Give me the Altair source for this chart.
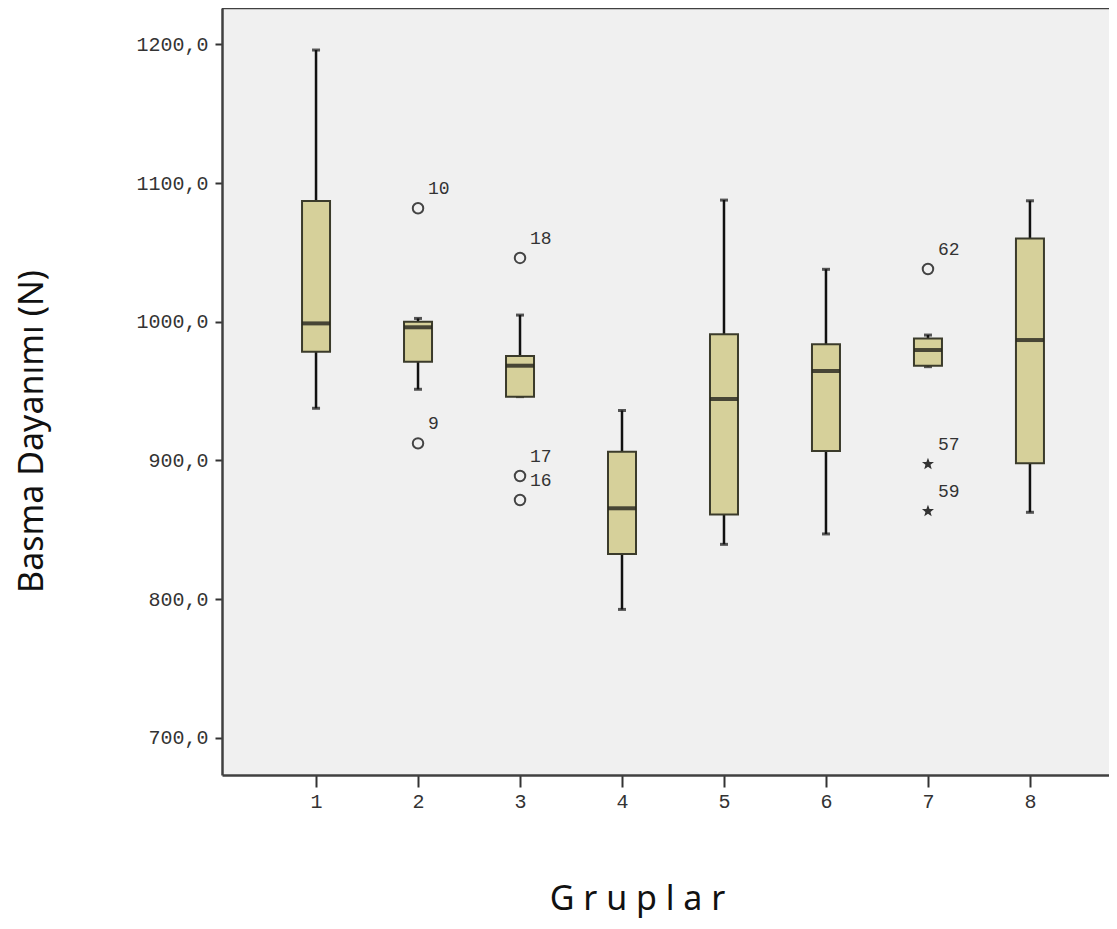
import math
import altair as alt
import pandas as pd

# ---- data ----
groups = [1, 2, 3, 4, 5, 6, 7, 8]
whisker_low = [937.6, 951.3, 946.0, 792.6, 839.5, 847.0, 967.6, 862.6]
q1 = [978.4, 971.2, 946.0, 832.5, 861.0, 906.8, 968.3, 897.9]
median = [998.8, 996.0, 968.3, 865.5, 944.3, 964.5, 979.6, 986.8]
q3 = [1087.0, 1000.0, 975.3, 906.3, 991.0, 983.7, 988.0, 1060.0]
whisker_high = [1195.9, 1002.4, 1004.8, 936.0, 1087.7, 1037.8, 990.4, 1087.2]

out_group = [2, 2, 3, 3, 3, 7, 7, 7]
out_value = [1081.8, 912.3, 1046.0, 888.8, 871.5, 1038.0, 897.4, 863.5]
out_label = ["10", "9", "18", "17", "16", "62", "57", "59"]
out_kind = ["circle", "circle", "circle", "circle", "circle", "circle", "star", "star"]

y_ticks = [700, 800, 900, 1000, 1100, 1200]

box = pd.DataFrame({"g": groups, "lo": whisker_low, "q1": q1, "med": median,
                    "q3": q3, "hi": whisker_high})
out = pd.DataFrame({"g": out_group, "v": out_value, "lab": out_label, "kind": out_kind})

# five-pointed star symbol path (unit square)
pts = []
for k in range(10):
    ang = math.radians(-90 + 36 * k)
    r = 1.0 if k % 2 == 0 else 0.42
    pts.append(f"{r * math.cos(ang):.3f},{r * math.sin(ang):.3f}")
STAR = "M" + " L".join(pts) + " Z"

W, H = 887, 767
xscale = alt.Scale(domain=[0.078, 8.775], nice=False, zero=False, padding=0)
yscale = alt.Scale(domain=[673.2, 1226.2], nice=False, zero=False, padding=0)

xaxis = alt.Axis(values=groups, format="d", title="G r u p l a r", grid=False,
                 labelFont="Liberation Mono", labelFontSize=20, labelColor="#333333",
                 labelPadding=4, tickSize=12, tickWidth=2, tickColor="#333333",
                 domainColor="#404040", domainWidth=2.5,
                 titleFont="Noto Sans", titleFontSize=34, titleFontWeight="normal",
                 titleColor="#111111", titleX=415, titleY=124, titleBaseline="middle",
                 titleAlign="center")
yaxis = alt.Axis(values=y_ticks, grid=False, title="Basma Dayanımı (N)",
                 labelExpr="replace(format(datum.value, '.1f'), '.', ',')",
                 labelFont="Liberation Mono", labelFontSize=20, labelColor="#333333",
                 labelPadding=7, tickSize=7, tickWidth=2, tickColor="#333333",
                 domainColor="#404040", domainWidth=2.5,
                 titleFont="Noto Sans", titleFontSize=34, titleFontWeight="normal",
                 titleColor="#111111", titleAngle=-90, titleX=-190, titleY=423,
                 titleBaseline="middle", titleAlign="center")

X = alt.X("g:Q", scale=xscale, axis=xaxis)

base = alt.Chart(box)

whisk = base.mark_rule(color="#111111", strokeWidth=2.5).encode(
    x=X, y=alt.Y("lo:Q", scale=yscale, axis=yaxis), y2="hi:Q")

cap_lo = base.mark_tick(orient="horizontal", size=8, thickness=3, color="#111111").encode(
    x=X, y=alt.Y("lo:Q", scale=yscale, axis=yaxis))
cap_hi = base.mark_tick(orient="horizontal", size=8, thickness=3, color="#111111").encode(
    x=X, y=alt.Y("hi:Q", scale=yscale, axis=yaxis))

boxes = base.mark_bar(width=28, color="#d6d09a", stroke="#3b3b2b", strokeWidth=2).encode(
    x=X, y=alt.Y("q1:Q", scale=yscale, axis=yaxis), y2="q3:Q")

med = base.mark_tick(orient="horizontal", size=27, thickness=4, color="#0a0a0a").encode(
    x=X, y=alt.Y("med:Q", scale=yscale, axis=yaxis))

ob = alt.Chart(out)
circ = ob.transform_filter(alt.datum.kind == "circle").mark_point(
    shape="circle", size=110, filled=False, color="#444444", strokeWidth=2, opacity=1).encode(
    x=X, y=alt.Y("v:Q", scale=yscale, axis=yaxis))
star = ob.transform_filter(alt.datum.kind == "star").mark_point(
    shape=STAR, size=160, filled=True, color="#333333", opacity=1).encode(
    x=X, y=alt.Y("v:Q", scale=yscale, axis=yaxis))
labels = ob.mark_text(align="left", baseline="middle", dx=10, dy=-19,
                      font="Liberation Mono", fontSize=18, color="#333333").encode(
    x=X, y=alt.Y("v:Q", scale=yscale, axis=yaxis), text="lab:N")

frame = alt.Chart(pd.DataFrame({"a": [0]})).mark_rule(color="#404040", strokeWidth=2.5).encode(
    x=alt.value(0), x2=alt.value(W), y=alt.value(0))

chart = alt.layer(whisk, cap_lo, cap_hi, boxes, med, circ, star, labels, frame).properties(
    width=W, height=H,
    padding={"left": 214, "top": 0, "right": 0, "bottom": 146},
    autosize=alt.AutoSizeParams(type="none"),
).configure_view(stroke=None, fill="#f0f0f0")

chart.save("out.html", embed_options={"renderer": "svg", "actions": False})
